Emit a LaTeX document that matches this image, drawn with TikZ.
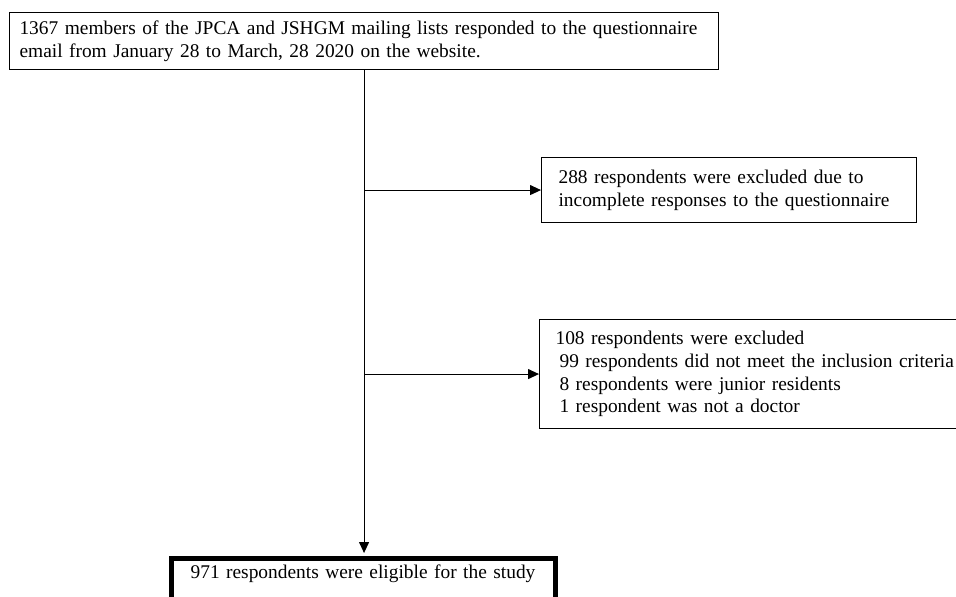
\documentclass[tikz,border=0pt]{standalone}
\usepackage{fontspec}
\setmainfont{Liberation Serif}
\usetikzlibrary{arrows.meta}

\begin{document}
\begin{tikzpicture}[x=1pt,y=-1pt,>={Triangle[length=11pt,width=10pt]},
  line width=1.1pt,
  flow box/.style={rectangle,draw,anchor=north west,align=left,
    font=\fontsize{19.4}{22.7}\selectfont},
  final box/.style={flow box,line width=5pt,align=center}]

  \clip (0,0) rectangle (956,597);

  \node[flow box, text width=689pt, inner xsep=10pt, minimum height=57pt] (survey) at (9,12)
    {1367 members of the JPCA and JSHGM mailing lists responded to the questionnaire\\
     email from January 28 to March, 28 2020 on the website.};
  \node[flow box, text width=341pt, inner xsep=17pt, minimum height=65pt] (incomplete) at (541,157)
    {288 respondents were excluded due to\\
     incomplete responses to the questionnaire};
  \node[flow box, text width=404pt, inner xsep=16pt, minimum height=109pt] (excluded) at (539,319)
    {108 respondents were excluded\\
     \hspace*{4pt}99 respondents did not meet the inclusion criteria\\
     \hspace*{4pt}8 respondents were junior residents\\
     \hspace*{4pt}1 respondent was not a doctor};
  \node[final box, text width=360pt, inner xsep=12pt, inner ysep=7pt,
    text height=13pt, text depth=40pt] (eligible) at (168.5,555.5)
    {971 respondents were eligible for the study};

  \coordinate (split1) at (survey.south |- incomplete.west);
  \coordinate (split2) at (survey.south |- excluded.west);

  \draw[->,shorten >=2.5pt] (survey.south) -- (survey.south |- eligible.north);
  \path[->]
    (split1) edge (incomplete.west)
    (split2) edge (excluded.west);
\end{tikzpicture}
\end{document}
